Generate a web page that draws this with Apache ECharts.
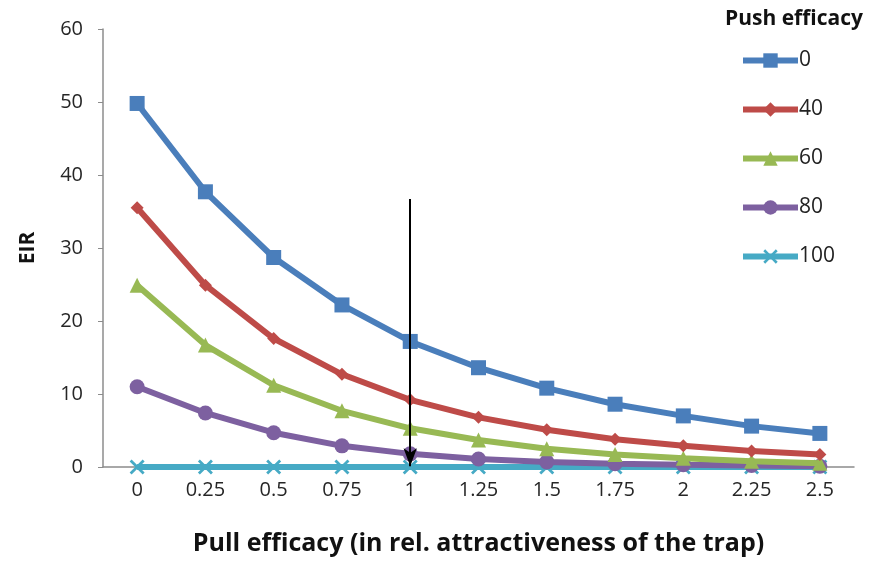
<!DOCTYPE html>
<html>
<head>
<meta charset="utf-8">
<script src="https://cdn.jsdelivr.net/npm/echarts@6/dist/echarts.min.js"></script>
<style>html,body{margin:0;padding:0;background:#fff}#c{width:875px;height:563px}</style>
</head>
<body>
<div id="c"></div>
<script>
const categories = ['0','0.25','0.5','0.75','1','1.25','1.5','1.75','2','2.25','2.5'];
const push0   = [49.8, 37.7, 28.7, 22.2, 17.2, 13.6, 10.8, 8.6, 7.0, 5.6, 4.6];
const push40  = [35.5, 24.9, 17.6, 12.7, 9.2, 6.8, 5.1, 3.8, 2.9, 2.2, 1.7];
const push60  = [24.9, 16.7, 11.2, 7.7, 5.3, 3.7, 2.5, 1.7, 1.2, 0.8, 0.5];
const push80  = [11.0, 7.4, 4.7, 2.9, 1.8, 1.1, 0.7, 0.45, 0.3, 0.2, 0.1];
const push100 = [0, 0, 0, 0, 0, 0, 0, 0, 0, 0, 0];
const seriesNames = ['0','40','60','80','100'];
const yTicks = [0, 10, 20, 30, 40, 50, 60];
const arrowAt = '1';
const arrowFrom = 36.7;
const arrowTo = 0.1;

const colors = ['#4A7EBB', '#BE4B48', '#98B954', '#7D60A0', '#46AAC5'];
const crossPath = 'path://M0,1.3 L1.3,0 L5,3.7 L8.7,0 L10,1.3 L6.3,5 L10,8.7 L8.7,10 L5,6.3 L1.3,10 L0,8.7 L3.7,5 Z';
const symbols = ['rect', 'diamond', 'triangle', 'circle', crossPath];
const symbolSizes = [15, 13, 15, 15, 15];
const dataSets = [push0, push40, push60, push80, push100];
const font = 'Open Sans, Lato, sans-serif';

const series = dataSets.map((d, i) => ({
  name: seriesNames[i],
  type: 'line',
  data: d,
  symbol: symbols[i],
  symbolSize: symbolSizes[i],
  showAllSymbol: true,
  lineStyle: { color: colors[i], width: 6 },
  itemStyle: { color: colors[i] },
  z: 10 - i,
  animation: false
}));

series[0].markLine = {
  silent: true,
  z: 30,
  symbol: ['none', 'arrow'],
  symbolSize: [10, 18],
  label: { show: false },
  emphasis: { disabled: true },
  itemStyle: { color: '#000' },
  lineStyle: { color: '#000', width: 2, type: 'solid', opacity: 1 },
  data: [[
    { coord: [arrowAt, arrowFrom] },
    { coord: [arrowAt, arrowTo] }
  ]]
};

const chart = echarts.init(document.getElementById('c'), null, { renderer: 'canvas' });
chart.setOption({
  animation: false,
  backgroundColor: '#fff',
  title: {
    text: 'Push efficacy',
    right: 7, top: 4,
    textStyle: { fontFamily: font, fontWeight: 'bold', fontSize: 21, color: '#111' }
  },
  legend: {
    data: seriesNames,
    orient: 'vertical',
    left: 735, top: 45,
    itemWidth: 55, itemHeight: 18,
    itemGap: 28,
    lineStyle: { width: 6 },
    textStyle: { fontFamily: font, fontSize: 21, color: '#222', lineHeight: 18, padding: [0, 0, 0, -4] }
  },
  grid: { left: 103, top: 29, right: 21, bottom: 96, containLabel: false },
  xAxis: {
    type: 'category',
    data: categories,
    boundaryGap: true,
    name: 'Pull efficacy (in rel. attractiveness of the trap)',
    nameLocation: 'middle',
    nameGap: 64,
    nameTextStyle: { fontFamily: font, fontWeight: 'bold', fontSize: 25, color: '#111' },
    axisLine: { lineStyle: { color: '#8C8C8C', width: 1.5 } },
    axisTick: { show: false },
    axisLabel: { fontFamily: font, fontSize: 20, color: '#262626', margin: 13 },
    splitLine: { show: false }
  },
  yAxis: {
    type: 'value',
    min: yTicks[0], max: yTicks[yTicks.length - 1], interval: 10,
    name: 'EIR',
    nameLocation: 'middle',
    nameGap: 64,
    nameRotate: 90,
    nameTextStyle: { fontFamily: font, fontWeight: 'bold', fontSize: 21, color: '#111' },
    axisLine: { show: true, lineStyle: { color: '#8C8C8C', width: 1.5 } },
    axisTick: { show: true, length: 5, lineStyle: { color: '#8C8C8C' } },
    axisLabel: { fontFamily: font, fontSize: 20, color: '#262626', margin: 20 },
    splitLine: { show: false }
  },
  series: series
});
</script>
</body>
</html>
